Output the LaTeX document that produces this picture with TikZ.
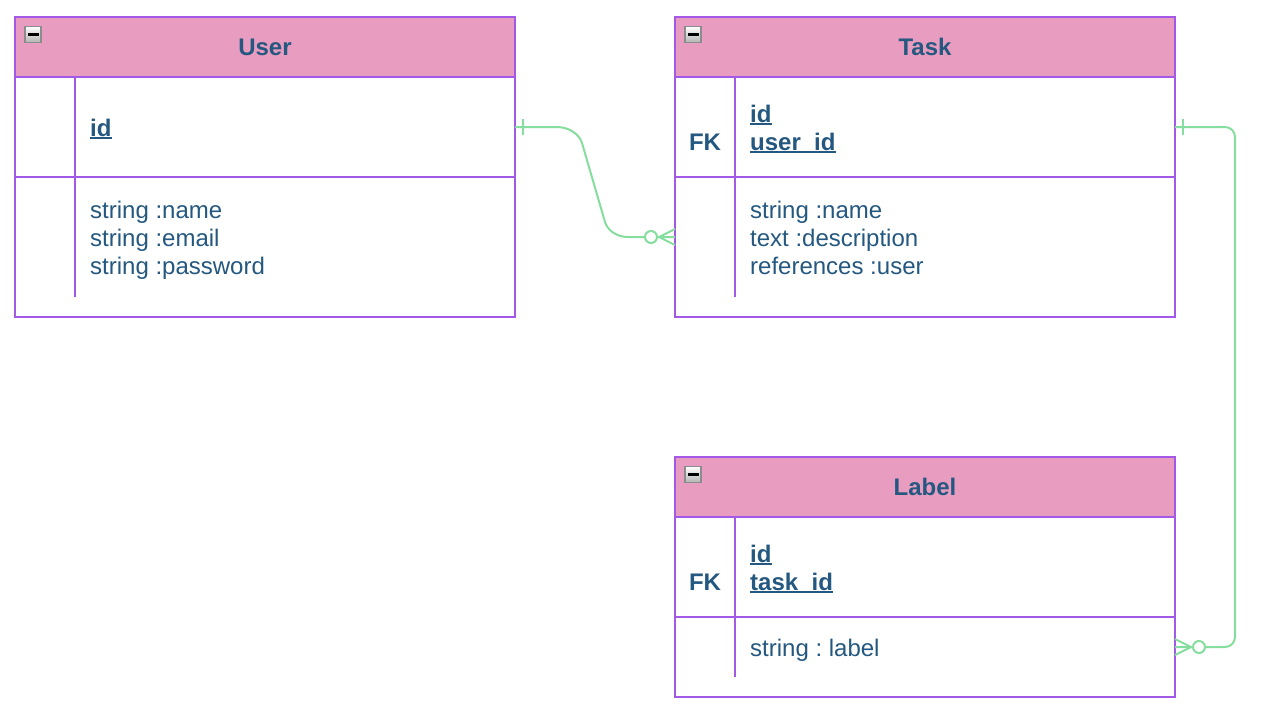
\documentclass[tikz,border=0pt]{standalone}
\usepackage{fontspec}
\setmainfont{Liberation Sans}
\frenchspacing
\definecolor{hdrpink}{RGB}{232,156,191}
\definecolor{brd}{RGB}{163,88,230}
\definecolor{txt}{RGB}{36,88,128}
\definecolor{lnk}{RGB}{134,222,158}
\newcommand\ulkey[1]{\setbox0\hbox{#1}\rlap{\rule[-3pt]{\wd0}{2pt}}\box0}
\tikzset{
  tbl/.style={draw=brd, line width=2pt, fill=white, anchor=north west, minimum width=500pt, inner sep=0pt, outer sep=0pt},
  hdr/.style={draw=brd, line width=2pt, fill=hdrpink, anchor=north west, minimum width=500pt, minimum height=60pt, inner sep=0pt, outer sep=0pt, text=txt, font=\fontsize{24}{28}\selectfont\bfseries},
  rowbox/.style={anchor=north west, minimum width=500pt, inner sep=0pt, outer sep=0pt},
  sep/.style={draw=brd, line width=2pt},
  txtline/.style={anchor=base west, inner sep=0pt, text=txt, font=\fontsize{24}{28}\selectfont},
  keyline/.style={txtline, font=\fontsize{24}{28}\selectfont\bfseries},
  fk/.style={anchor=base, inner sep=0pt, text=txt, font=\fontsize{24}{28}\selectfont\bfseries},
  rel/.style={draw=lnk, line width=2pt},
  icon/.style={draw=black!45, line width=1.5pt, minimum size=16pt, inner sep=0pt, top color=white, bottom color=black!30},
}
\begin{document}
\begin{tikzpicture}[x=1pt,y=-1pt]
\useasboundingbox[fill=white] (0,0) rectangle (1276,726);

% ---------- User ----------
\node[tbl, minimum height=300pt] (user) at (15,17) {};
\node[hdr] (userhd) at (15,17) {User};
\node[rowbox, minimum height=100pt] (userpk) at (15,77) {};
\node[rowbox, minimum height=120pt] (userattr) at (15,177) {};
\draw[sep] (userpk.south west) -- (userpk.south east);
\draw[sep] (75,77) -- (75,297);
\node[icon] (usericon) at (33,34.5) {};
\draw[line width=2.5pt] ([xshift=-5.5pt]usericon.center) -- ([xshift=5.5pt]usericon.center);
\node[keyline] (userid) at (90,136) {\ulkey{id}};
\node[txtline] (usera1) at (90,218.5) {string :name};
\node[txtline] (usera2) at (90,246.5) {string :email};
\node[txtline] (usera3) at (90,274.5) {string :password};

% ---------- Task ----------
\node[tbl, minimum height=300pt] (task) at (675,17) {};
\node[hdr] (taskhd) at (675,17) {Task};
\node[rowbox, minimum height=100pt] (taskpk) at (675,77) {};
\node[rowbox, minimum height=120pt] (taskattr) at (675,177) {};
\draw[sep] (taskpk.south west) -- (taskpk.south east);
\draw[sep] (735,77) -- (735,297);
\node[icon] (taskicon) at (693,34.5) {};
\draw[line width=2.5pt] ([xshift=-5.5pt]taskicon.center) -- ([xshift=5.5pt]taskicon.center);
\node[keyline] (taskid) at (750,122) {\ulkey{id}};
\node[keyline] (taskuid) at (750,150) {\ulkey{user\_id}};
\node[fk] (taskfk) at (705,150) {FK};
\node[txtline] (taska1) at (750,218.5) {string :name};
\node[txtline] (taska2) at (750,246.5) {text :description};
\node[txtline] (taska3) at (750,274.5) {references :user};

% ---------- Label ----------
\node[tbl, minimum height=240pt] (label) at (675,457) {};
\node[hdr] (labelhd) at (675,457) {Label};
\node[rowbox, minimum height=100pt] (labelpk) at (675,517) {};
\node[rowbox, minimum height=60pt] (labelattr) at (675,617) {};
\draw[sep] (labelpk.south west) -- (labelpk.south east);
\draw[sep] (735,517) -- (735,677);
\node[icon] (labelicon) at (693,474.5) {};
\draw[line width=2.5pt] ([xshift=-5.5pt]labelicon.center) -- ([xshift=5.5pt]labelicon.center);
\node[keyline] (labelid) at (750,562) {\ulkey{id}};
\node[keyline] (labeltid) at (750,590) {\ulkey{task\_id}};
\node[fk] (labelfk) at (705,590) {FK};
\node[txtline] (labela1) at (750,656.5) {string : label};

% ---------- User -> Task ----------
\draw[rel] (userpk.east) -- ++(42,0) .. controls (570,127) and (579.8,135.3) .. (582,143)
  -- (605,222) .. controls (607.2,229.7) and (616,237) .. (628,237) -- (taskattr.west);
\draw[rel] ([xshift=8pt,yshift=8pt]userpk.east) -- ([xshift=8pt,yshift=-8pt]userpk.east);
\draw[rel, fill=white] ([xshift=-24pt]taskattr.west) circle (6pt);
\draw[rel] ([yshift=8pt]taskattr.west) -- ([xshift=-16pt]taskattr.west) -- ([yshift=-8pt]taskattr.west);

% ---------- Task -> Label ----------
\draw[rel, rounded corners=10pt] (taskpk.east) -- ++(60,0) |- (labelattr.east);
\draw[rel] ([xshift=8pt,yshift=8pt]taskpk.east) -- ([xshift=8pt,yshift=-8pt]taskpk.east);
\draw[rel, fill=white] ([xshift=24pt]labelattr.east) circle (6pt);
\draw[rel] ([yshift=8pt]labelattr.east) -- ([xshift=16pt]labelattr.east) -- ([yshift=-8pt]labelattr.east);
\end{tikzpicture}
\end{document}
